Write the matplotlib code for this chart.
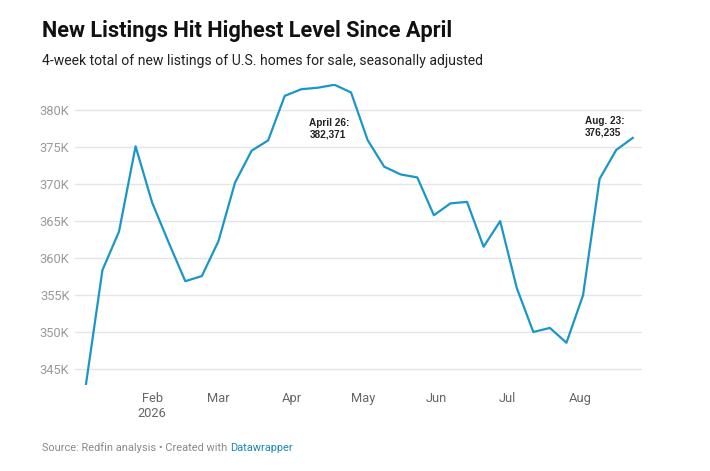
import pandas as pd
import matplotlib.pyplot as plt

# weekly 4-week totals, seasonally adjusted
start_date = "2026-01-04"
new_listings = [
    342900, 358400, 363600, 375100, 367500, 362100, 356900, 357600,
    362300, 370200, 374500, 375900, 381900, 382800, 383000, 383400,
    382371, 375950, 372350, 371300, 370900, 365800, 367400, 367600,
    361550, 365000, 356000, 350050, 350600, 348600, 355000, 370700,
    374600, 376235,
]
y_ticks = [345000, 350000, 355000, 360000, 365000, 370000, 375000, 380000]
month_ticks = ["2026-02-01", "2026-03-01", "2026-04-01", "2026-05-01",
               "2026-06-01", "2026-07-01", "2026-08-01"]
month_labels = ["Feb\n2026", "Mar", "Apr", "May", "Jun", "Jul", "Aug"]
notes = [("2026-04-26", 382371, "April 26:\n382,371", (-30, -26)),
         ("2026-08-23", 376235, "Aug. 23:\n376,235", (-34.3, 8))]

dates = pd.date_range(start_date, periods=len(new_listings), freq="7D")

plt.rcParams['font.family'] = ['Roboto', 'DejaVu Sans']

fig = plt.figure(figsize=(7.1, 4.71), dpi=100)
ax = fig.add_axes([0.1056, 0.1826, 0.7986, 0.639])

ax.plot(dates, new_listings, color='#1a96c9', lw=1.6)

ax.set_xlim(pd.Timestamp(start_date) - pd.Timedelta(days=4.6),
            dates[-1] + pd.Timedelta(days=3.9))
ax.set_ylim(342900, 383500)

ax.set_yticks(y_ticks)
ax.set_yticklabels([f"{v // 1000}K" for v in y_ticks])
ax.set_xticks(pd.to_datetime(month_ticks))
ax.set_xticklabels(month_labels, linespacing=1.2)

ax.grid(axis='y', color='#e5e5e5', lw=1)
ax.set_axisbelow(True)
for s in ax.spines.values():
    s.set_visible(False)
ax.tick_params(axis='y', length=0, pad=4, labelsize=9.3, labelcolor='#9a9a9a')
ax.tick_params(axis='x', length=0, pad=5, labelsize=9.3, labelcolor='#666666')

for d, v, label, off in notes:
    ax.annotate(label, xy=(pd.Timestamp(d), v), xytext=off,
                textcoords='offset points', ha='left', va='center',
                fontsize=7.2, fontweight='bold', family=['Liberation Sans', 'DejaVu Sans'],
                color='#222222', linespacing=1.15)

fig.text(0.0592, 0.922, "New Listings Hit Highest Level Since April",
         fontsize=15.7, fontweight='bold', color='#111111', va='baseline')
fig.text(0.0592, 0.862, "4-week total of new listings of U.S. homes for sale, seasonally adjusted",
         fontsize=10.1, color='#222222', va='baseline')
src = fig.text(0.0592, 0.038, "Source: Redfin analysis \u2022 Created with ",
               fontsize=7.9, color='#8a8a8a', va='bottom')
ax.annotate("Datawrapper", xy=(1, 0), xycoords=src, va='bottom', ha='left',
            fontsize=7.9, color='#1d88b3', annotation_clip=False)

fig.savefig("out.png", dpi=100)
